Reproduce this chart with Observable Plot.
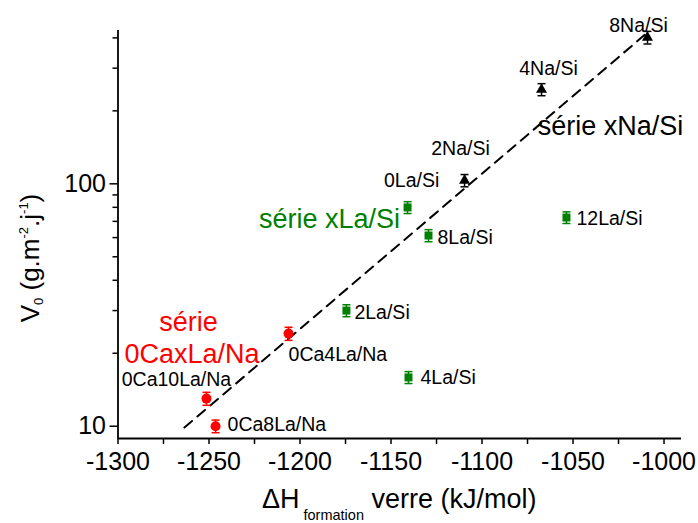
<!DOCTYPE html>
<html>
<head>
<meta charset="utf-8">
<script src="https://cdn.jsdelivr.net/npm/d3@7"></script>
<script src="https://cdn.jsdelivr.net/npm/@observablehq/plot@0.6"></script>
<style>
  html, body { margin: 0; padding: 0; background: #fff; }
  svg { display: block; }
</style>
</head>
<body>
<div id="chart"></div>
<script>
// ---- data ----
// série xNa/Si (black triangles)
const naLabels = ["2Na/Si", "4Na/Si", "8Na/Si"];
const naDH = [-1109.6, -1067.3, -1009.1];
const naV0 = [103.2, 244.9, 401.4];
const naErr = [6, 14, 24];

// série xLa/Si (green squares)
const laLabels = ["0La/Si", "2La/Si", "4La/Si", "8La/Si", "12La/Si"];
const laDH = [-1140.9, -1174.5, -1140.4, -1129.4, -1053.6];
const laV0 = [79.9, 30.0, 15.9, 61.2, 72.6];
const laErr = [4.5, 1.7, 0.9, 3.5, 4.0];

// série 0CaxLa/Na (red circles)
const caLabels = ["0Ca4La/Na", "0Ca8La/Na", "0Ca10La/Na"];
const caDH = [-1206.3, -1246.4, -1251.4];
const caV0 = [24.1, 10.0, 13.0];
const caErr = [1.5, 0.6, 0.8];

// dashed trend line end points
const fitDH = [-1263.5, -1008.5];
const fitV0 = [9.88, 424.6];

// series annotations
const noteTexts = ["série xNa/Si", "série xLa/Si", "série", "0CaxLa/Na"];
const noteDH = [-1029.4, -1183.8, -1261.3, -1259.3];
const noteV0 = [172.4, 71.3, 26.8, 19.8];

// axes
const xDomain = [-1300, -990.4];
const yDomain = [8.9, 429];
const xTicks = [-1300, -1250, -1200, -1150, -1100, -1050, -1000];
const xMinor = [-1275, -1225, -1175, -1125, -1075, -1025];
const yTicks = [10, 100];
const yMinor = [20, 30, 40, 50, 60, 70, 80, 90, 200, 300, 400];

// ---- styles ----
const FONT = "Liberation Sans, Arial, sans-serif";
const GREEN = "#008000", RED = "#ff0000", BLACK = "#000000";
const noteColors = [BLACK, GREEN, RED, RED];
// label placement relative to its point (pixels)
const labelPlace = {
  "8Na/Si": {dx: -9, dy: -12, anchor: "middle"},
  "4Na/Si": {dx: 7, dy: -21, anchor: "middle"},
  "2Na/Si": {dx: -4, dy: -32, anchor: "middle"},
  "0La/Si": {dx: 4, dy: -27, anchor: "middle"},
  "8La/Si": {dx: 9, dy: 2, anchor: "start"},
  "12La/Si": {dx: 10, dy: 1, anchor: "start"},
  "2La/Si": {dx: 8, dy: 2, anchor: "start"},
  "4La/Si": {dx: 12, dy: 0, anchor: "start"},
  "0Ca4La/Na": {dx: 0, dy: 21, anchor: "start"},
  "0Ca10La/Na": {dx: -30, dy: -19, anchor: "middle"},
  "0Ca8La/Na": {dx: 12, dy: -1, anchor: "start"}
};

function build(labels, dh, v0, err, series) {
  return labels.map((l, i) => ({label: l, dh: dh[i], v0: v0[i], lo: v0[i] - err[i], hi: v0[i] + err[i], series}));
}
const naRows = build(naLabels, naDH, naV0, naErr, "na");
const laRows = build(laLabels, laDH, laV0, laErr, "la");
const caRows = build(caLabels, caDH, caV0, caErr, "ca");
const allRows = [...naRows, ...laRows, ...caRows];
const fitRows = fitDH.map((d, i) => ({dh: d, v0: fitV0[i]}));
const notes = noteTexts.map((t, i) => ({text: t, dh: noteDH[i], v0: noteV0[i], color: noteColors[i]}));

const cap = {draw(ctx) { ctx.moveTo(-4, 0); ctx.lineTo(4, 0); }};

const W = 698, H = 523;
const mL = 117.5, mR = 17, mT = 30, mB = 85;

const errMarks = (rows, color) => [
  Plot.ruleX(rows, {x: "dh", y1: "lo", y2: "hi", stroke: color, strokeWidth: 1.5}),
  Plot.dot(rows, {x: "dh", y: "lo", symbol: cap, stroke: color, strokeWidth: 1.5, fill: "none"}),
  Plot.dot(rows, {x: "dh", y: "hi", symbol: cap, stroke: color, strokeWidth: 1.5, fill: "none"})
];

const svg = Plot.plot({
  width: W, height: H,
  marginLeft: mL, marginRight: mR, marginTop: mT, marginBottom: mB,
  style: {fontFamily: FONT, fontSize: "25px", background: "#fff", color: "#000"},
  x: {domain: xDomain, axis: null},
  y: {type: "log", domain: yDomain, axis: null},
  marks: [
    Plot.axisX(xTicks, {anchor: "bottom", tickSize: 6, tickPadding: 8, tickFormat: d => String(d), fontSize: 25, strokeWidth: 1.5, label: null}),
    Plot.axisX(xMinor, {anchor: "bottom", tickSize: 6, tickFormat: () => "", strokeWidth: 1.5, label: null}),
    Plot.axisY(yTicks, {anchor: "left", tickSize: 8, tickPadding: 4, tickFormat: d => String(d), fontSize: 25, strokeWidth: 1.5, label: null}),
    Plot.axisY(yMinor, {anchor: "left", tickSize: 5, tickFormat: () => "", strokeWidth: 1.5, label: null}),
    Plot.ruleX([xDomain[0]], {stroke: BLACK, strokeWidth: 1.8}),
    Plot.ruleY([yDomain[0]], {stroke: BLACK, strokeWidth: 1.8}),
    Plot.line(fitRows, {x: "dh", y: "v0", stroke: BLACK, strokeWidth: 2, strokeDasharray: "10,7"}),
    ...errMarks(naRows, BLACK),
    ...errMarks(laRows, GREEN),
    ...errMarks(caRows, RED),
    Plot.dot(naRows, {x: "dh", y: "v0", symbol: "triangle", r: 4.1, fill: BLACK}),
    Plot.dot(laRows, {x: "dh", y: "v0", symbol: "square", r: 4.5, fill: GREEN}),
    Plot.dot(caRows, {x: "dh", y: "v0", symbol: "circle", r: 5, fill: RED}),
    ...allRows.map(r => {
      const p = labelPlace[r.label];
      return Plot.text([r], {x: "dh", y: "v0", text: "label", dx: p.dx, dy: p.dy, textAnchor: p.anchor, lineAnchor: "middle", fontSize: 19.5, fill: BLACK});
    }),
    Plot.text(notes, {x: "dh", y: "v0", text: "text", fill: "color", fontSize: 27, textAnchor: "middle", lineAnchor: "middle"})
  ]
});

const s = d3.select(svg);
// x axis title with subscript
const xt = s.append("text")
  .attr("x", mL + (W - mL - mR) / 2).attr("y", 508)
  .attr("text-anchor", "middle").attr("font-family", FONT).attr("font-size", 27).attr("fill", BLACK);
xt.append("tspan").text("ΔH");
xt.append("tspan").attr("font-size", 14.5).attr("dx", 4).attr("dy", 12).text("formation");
xt.append("tspan").attr("dy", -12).text(" verre (kJ/mol)");

// y axis title with sub/superscripts
const yt = s.append("text")
  .attr("transform", `translate(39,${mT + 228}) rotate(-90)`)
  .attr("text-anchor", "middle").attr("font-family", FONT).attr("font-size", 26).attr("fill", BLACK);
yt.append("tspan").text("V");
yt.append("tspan").attr("font-size", 13).attr("dy", 4).text("0");
yt.append("tspan").attr("dy", -4).text(" (g.m");
yt.append("tspan").attr("font-size", 13).attr("dy", -11).text("-2");
yt.append("tspan").attr("dy", 11).text(".j");
yt.append("tspan").attr("font-size", 13).attr("dy", -11).text("-1");
yt.append("tspan").attr("dy", 11).text(")");

document.getElementById("chart").appendChild(svg);
</script>
</body>
</html>
